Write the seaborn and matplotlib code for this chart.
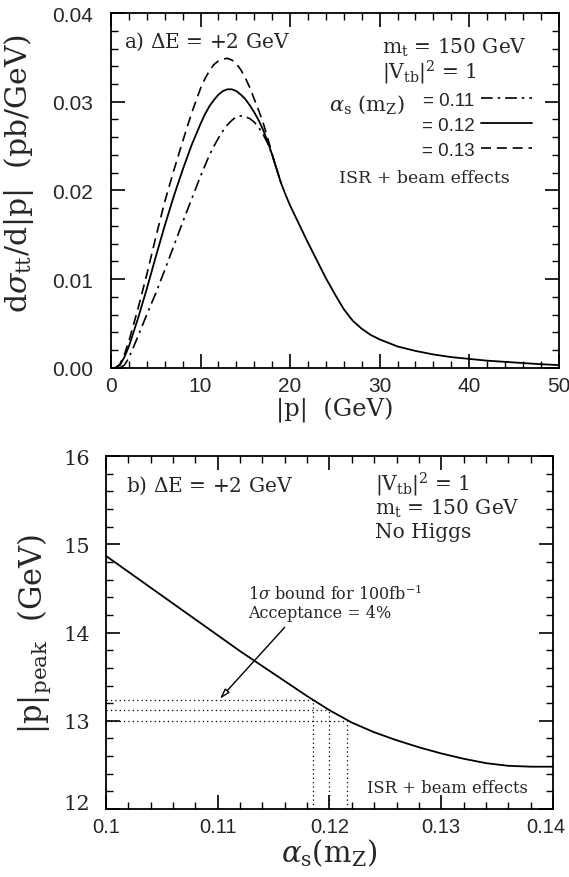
import numpy as np
import pandas as pd
import matplotlib
matplotlib.use("Agg")
import matplotlib.pyplot as plt
from matplotlib.ticker import MultipleLocator, FormatStrFormatter
from matplotlib.transforms import ScaledTranslation
import seaborn as sns

# ---------------- data ----------------
# panel a: d sigma / d|p| vs |p|
p_012 = [0.5, 1, 1.5, 2, 3, 4, 5, 6, 7, 8, 9, 10, 10.5, 11, 11.5, 12, 12.5, 13, 13.5,
         14, 14.5, 15, 15.5, 16, 16.5, 17, 17.5, 18, 18.5, 19, 19.5, 20, 21, 22, 23,
         24, 25, 26, 27, 28, 29, 30, 32, 34, 36, 38, 40, 42, 45, 48, 50]
s_012 = [0.0, 0.0003, 0.0012, 0.0024, 0.0055, 0.0089, 0.0125, 0.0160, 0.0193, 0.0223,
         0.0251, 0.0275, 0.0286, 0.0295, 0.0302, 0.0308, 0.0312, 0.0314, 0.0314,
         0.0312, 0.0308, 0.0303, 0.0296, 0.0288, 0.0279, 0.0268, 0.0255, 0.0240,
         0.0224, 0.0208, 0.0195, 0.0183, 0.0162, 0.0141, 0.0121, 0.0101, 0.0083,
         0.0066, 0.0053, 0.0044, 0.0037, 0.0032, 0.0024, 0.0019, 0.0015, 0.0012,
         0.0010, 0.0008, 0.0006, 0.0004, 0.0003]

p_013 = [0.5, 1, 1.5, 2, 3, 4, 5, 6, 7, 8, 9, 10, 10.5, 11, 11.5, 12, 12.5, 13, 13.5,
         14, 14.5, 15, 15.5, 16, 16.5, 17, 17.5, 18, 18.5, 19]
s_013 = [0.0, 0.0004, 0.0015, 0.0030, 0.0066, 0.0105, 0.0147, 0.0187, 0.0222, 0.0255,
         0.0287, 0.0315, 0.0326, 0.0335, 0.0342, 0.0346, 0.0348, 0.0349, 0.0347,
         0.0343, 0.0336, 0.0327, 0.0316, 0.0303, 0.0290, 0.0276, 0.0259, 0.0241,
         0.0224, 0.0208]

p_011 = [1.0, 1.5, 2, 3, 4, 5, 6, 7, 8, 9, 10, 11, 11.5, 12, 12.5, 13, 13.5, 14, 14.5,
         15, 15.5, 16, 16.5, 17, 17.5, 18, 18.5, 19]
s_011 = [0.0, 0.0003, 0.0011, 0.0035, 0.0060, 0.0084, 0.0110, 0.0137, 0.0164, 0.0190,
         0.0216, 0.0240, 0.0250, 0.0259, 0.0267, 0.0274, 0.0279, 0.0283, 0.0284,
         0.0283, 0.0281, 0.0277, 0.0271, 0.0263, 0.0253, 0.0240, 0.0224, 0.0208]

alpha_labels = ["= 0.11", "= 0.12", "= 0.13"]

# panel b: |p|_peak vs alpha_s(mZ)
alpha_s = [0.100, 0.102, 0.104, 0.106, 0.108, 0.110, 0.112, 0.114, 0.116, 0.118, 0.120,
           0.121, 0.122, 0.123, 0.124, 0.126, 0.128, 0.130, 0.132, 0.134, 0.136, 0.138,
           0.140]
p_peak = [14.87, 14.69, 14.51, 14.33, 14.15, 13.97, 13.79, 13.62, 13.45, 13.28, 13.12,
          13.05, 12.98, 12.925, 12.87, 12.78, 12.70, 12.63, 12.57, 12.52, 12.49, 12.48,
          12.48]

bound_alpha = [0.1185, 0.1200, 0.1216]
bound_peak = [13.24, 13.12, 13.00]

# ---------------- style ----------------
sns.set_theme(style="ticks")
plt.rcParams["font.family"] = ["DejaVu Serif"]
plt.rcParams["mathtext.fontset"] = "dejavuserif"
plt.rcParams["axes.linewidth"] = 1.3

fig = plt.figure(figsize=(5.69, 8.78), dpi=100)
ax1 = fig.add_axes([0.195, 0.580, 0.787, 0.404])
ax2 = fig.add_axes([0.186, 0.0774, 0.786, 0.402])


def style_axes(ax):
    ax.tick_params(which="both", direction="in", top=True, right=True, color="black")
    ax.tick_params(which="major", length=10, width=1.2)
    ax.tick_params(which="minor", length=5, width=1.0)
    ax.tick_params(axis="y", which="major", pad=13)
    ax.tick_params(axis="x", which="major", pad=6)
    for s in ax.spines.values():
        s.set_color("black")
        s.set_linewidth(1.3)

# ---------------- panel a ----------------
dfa = pd.DataFrame({"p": p_011, "s": s_011})
dfb = pd.DataFrame({"p": p_012, "s": s_012})
dfc = pd.DataFrame({"p": p_013, "s": s_013})
sns.lineplot(data=dfa, x="p", y="s", ax=ax1, color="black", lw=1.2,
             ls=(0, (7, 3, 1.5, 3)), label=alpha_labels[0])
sns.lineplot(data=dfb, x="p", y="s", ax=ax1, color="black", lw=1.3,
             ls="-", label=alpha_labels[1])
sns.lineplot(data=dfc, x="p", y="s", ax=ax1, color="black", lw=1.2,
             ls=(0, (6, 3.5)), label=alpha_labels[2])

ax1.set_xlim(0, 50)
ax1.set_ylim(0, 0.04)
ax1.xaxis.set_major_locator(MultipleLocator(10))
ax1.xaxis.set_minor_locator(MultipleLocator(2))
ax1.yaxis.set_major_locator(MultipleLocator(0.01))
ax1.yaxis.set_minor_locator(MultipleLocator(0.002))
ax1.yaxis.set_major_formatter(FormatStrFormatter("%.2f"))
style_axes(ax1)
for lab in ax1.get_xticklabels() + ax1.get_yticklabels():
    lab.set_fontfamily("Liberation Sans")
    lab.set_fontsize(15)
ax1.set_xlabel("|p|  (GeV)", fontsize=17.5, labelpad=1)
ax1.set_ylabel(r"d$\sigma_{\rm tt}$/d|p|  (pb/GeV)", fontsize=21.5)
ax1.yaxis.set_label_coords(-0.168, 0.55)

leg = ax1.legend(loc="upper left", bbox_to_anchor=(0.665, 0.815), frameon=False,
                 markerfirst=False, handlelength=2.7, handletextpad=0.35,
                 labelspacing=0.42, borderpad=0.2,
                 prop={"family": "Liberation Sans", "size": 13.5})
ax1.text(0.487, 0.744, r"$\alpha_{\rm s}$ (m$_{\rm Z}$)", transform=ax1.transAxes,
         fontsize=15, va="center", ha="left")
ax1.text(0.03, 0.921, r"a) $\Delta$E = +2 GeV", transform=ax1.transAxes,
         fontsize=14.5, va="center", ha="left")
ax1.text(0.605, 0.904, r"m$_{\rm t}$ = 150 GeV", transform=ax1.transAxes,
         fontsize=14.5, va="center", ha="left")
ax1.text(0.605, 0.835, r"|V$_{\rm tb}$|$^2$ = 1", transform=ax1.transAxes,
         fontsize=14.5, va="center", ha="left")
ax1.text(0.51, 0.537, "ISR + beam effects", transform=ax1.transAxes,
         fontsize=12.5, va="center", ha="left")

# ---------------- panel b ----------------
dfp = pd.DataFrame({"alpha": alpha_s, "peak": p_peak})
sns.lineplot(data=dfp, x="alpha", y="peak", ax=ax2, color="black", lw=1.3)
for a, pk in zip(bound_alpha, bound_peak):
    ax2.plot([0.100, a], [pk, pk], ls=(0, (1, 2.5)), color="black", lw=0.9)
    ax2.plot([a, a], [12.0, pk], ls=(0, (1, 2.5)), color="black", lw=0.9)

ax2.annotate("", xy=(0.1102, 13.25), xytext=(0.1160, 14.06),
             arrowprops=dict(arrowstyle="-|>,head_length=0.5,head_width=0.15",
                             color="black", lw=1.0, fc="white", shrinkA=0, shrinkB=0))

ax2.set_xlim(0.1, 0.14)
ax2.set_ylim(12, 16)
ax2.xaxis.set_major_locator(MultipleLocator(0.01))
ax2.xaxis.set_minor_locator(MultipleLocator(0.002))
ax2.yaxis.set_major_locator(MultipleLocator(1))
ax2.yaxis.set_minor_locator(MultipleLocator(0.2))
ax2.xaxis.set_major_formatter(FormatStrFormatter("%g"))
style_axes(ax2)
ax2.tick_params(axis="y", which="major", pad=11)
ax2.set_xlabel(r"$\alpha_{\rm s}$(m$_{\rm Z}$)", fontsize=21, labelpad=0)
ax2.set_ylabel(r"|p|$_{\rm peak}$  (GeV)", fontsize=22, labelpad=8)

ax2.text(0.045, 0.92, r"b) $\Delta$E = +2 GeV", transform=ax2.transAxes,
         fontsize=14.5, va="center", ha="left")
ax2.text(0.602, 0.92, r"|V$_{\rm tb}$|$^2$ = 1", transform=ax2.transAxes,
         fontsize=14.5, va="center", ha="left")
ax2.text(0.602, 0.852, r"m$_{\rm t}$ = 150 GeV", transform=ax2.transAxes,
         fontsize=14.5, va="center", ha="left")
ax2.text(0.602, 0.787, "No Higgs", transform=ax2.transAxes,
         fontsize=14.5, va="center", ha="left")
ax2.text(0.318, 0.612, r"1$\sigma$ bound for 100fb$^{-1}$", transform=ax2.transAxes,
         fontsize=11.5, va="center", ha="left")
ax2.text(0.318, 0.558, "Acceptance = 4%", transform=ax2.transAxes,
         fontsize=11.5, va="center", ha="left")
ax2.text(0.585, 0.062, "ISR + beam effects", transform=ax2.transAxes,
         fontsize=11.8, va="center", ha="left")

fig.canvas.draw()
for lab in ax2.get_xticklabels():
    lab.set_fontfamily("Liberation Sans")
    lab.set_fontsize(14.5)
    if lab.get_text() == "0.14":
        lab.set_transform(lab.get_transform()
                          + ScaledTranslation(-7 / 100, 0, fig.dpi_scale_trans))
for lab in ax2.get_yticklabels():
    lab.set_fontsize(15)
    if lab.get_text() == "12":
        lab.set_transform(lab.get_transform()
                          + ScaledTranslation(0, 8 / 100, fig.dpi_scale_trans))

fig.savefig("out.png", dpi=100)
